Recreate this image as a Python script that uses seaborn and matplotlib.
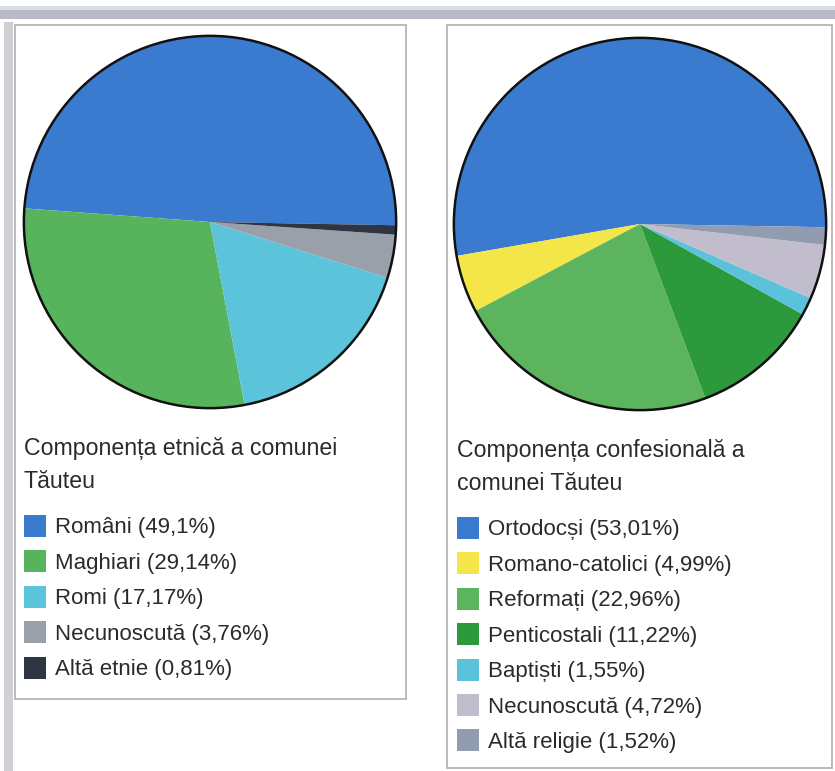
import matplotlib.pyplot as plt
import seaborn as sns
from matplotlib.patches import Rectangle, Circle

# ethnic composition
eth_labels = ["Români", "Maghiari", "Romi", "Necunoscută", "Altă etnie"]
eth_values = [49.1, 29.14, 17.17, 3.76, 0.81]
eth_text = ["49,1%", "29,14%", "17,17%", "3,76%", "0,81%"]
eth_colors = ["#3a7bd0", "#58b45c", "#5cc4da", "#9aa0aa", "#2f3542"]

# religious composition
rel_labels = ["Ortodocși", "Romano-catolici", "Reformați", "Penticostali",
              "Baptiști", "Necunoscută", "Altă religie"]
rel_values = [53.01, 4.99, 22.96, 11.22, 1.55, 4.72, 1.52]
rel_text = ["53,01%", "4,99%", "22,96%", "11,22%", "1,55%", "4,72%", "1,52%"]
rel_colors = ["#3a7bd0", "#f4e648", "#5db45f", "#2c9a3c", "#5bc2dc", "#c1bdcc", "#929cb0"]

sns.set_theme(style="white")
plt.rcParams['font.family'] = ['Liberation Sans', 'DejaVu Sans']

W, H = 835, 771
fig = plt.figure(figsize=(W / 100, H / 100), dpi=100)


def px(x, y):
    # pixel coords (top-left origin) -> figure fraction
    return x / W, 1 - y / H


# scan background: top band and left strip
fig.add_artist(Rectangle(px(0, 19), 1, 11 / H, transform=fig.transFigure,
                         color="#b9bcc8", lw=0))
fig.add_artist(Rectangle(px(0, 10), 1, 4 / H, transform=fig.transFigure,
                         color="#dcdde4", lw=0))
fig.add_artist(Rectangle(px(4, H), 9 / W, 1 - 22 / H, transform=fig.transFigure,
                         color="#cfd0d4", lw=0))

# boxes
for (x0, y0, x1, y1) in [(15, 25, 406, 699), (447, 25, 832, 768)]:
    fig.add_artist(Rectangle(px(x0, y1), (x1 - x0) / W, (y1 - y0) / H,
                             transform=fig.transFigure, fill=False,
                             ec="#b5b5b5", lw=1.3))


def draw_pie(cx, cy, r, values, colors):
    x0, y0 = px(cx - r, cy + r)
    ax = fig.add_axes([x0, y0, 2 * r / W, 2 * r / H])
    ax.pie(values, colors=colors, startangle=-1, counterclock=True,
           wedgeprops=dict(linewidth=0))
    ax.add_patch(Circle((0, 0), 1, fill=False, ec="#111111", lw=1.8))
    ax.set_xlim(-1.01, 1.01)
    ax.set_ylim(-1.01, 1.01)
    ax.set_axis_off()


draw_pie(210, 222, 188, eth_values, eth_colors)
draw_pie(640, 224, 188, rel_values, rel_colors)


def draw_legend(x, title_lines, title_y, row_y, labels, texts, colors):
    for i, line in enumerate(title_lines):
        fig.text(*px(x, title_y + i * 33), line, fontsize=16.7,
                 color="#2a2a2a", va="center", ha="left")
    for i, (lab, t, c) in enumerate(zip(labels, texts, colors)):
        yy = row_y + i * 35.4
        fig.add_artist(Rectangle(px(x, yy + 11), 22 / W, 22 / H,
                                 transform=fig.transFigure, color=c, lw=0))
        fig.text(*px(x + 31, yy + 2), f"{lab} ({t})", fontsize=16,
                 color="#2a2a2a", va="center", ha="left")


draw_legend(24, ["Componența etnică a comunei", "Tăuteu"], 448, 526,
            eth_labels, eth_text, eth_colors)
draw_legend(457, ["Componența confesională a", "comunei Tăuteu"], 451, 528,
            rel_labels, rel_text, rel_colors)

fig.savefig("out.png", dpi=100)
